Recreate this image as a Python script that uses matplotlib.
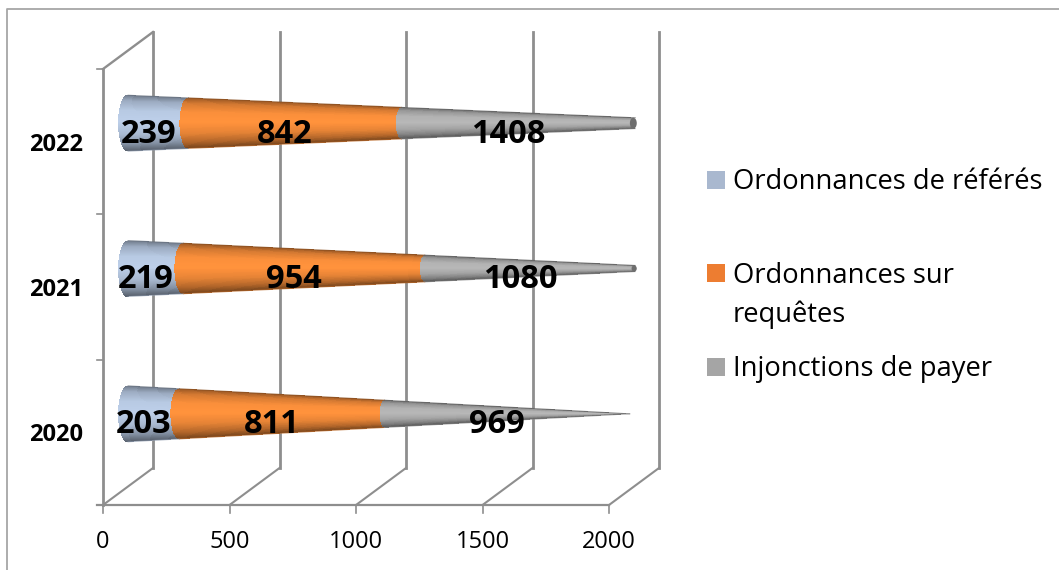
import numpy as np
import matplotlib
matplotlib.use("Agg")
import matplotlib.pyplot as plt
from matplotlib.patches import Rectangle, Ellipse

# values
years = ["2020", "2021", "2022"]
referes = [203, 219, 239]
requetes = [811, 954, 842]
injonctions = [969, 1080, 1408]
series_names = ["Ordonnances de référés", "Ordonnances sur\nrequêtes", "Injonctions de payer"]
x_ticks = [0, 500, 1000, 1500, 2000]

W, H = 1059, 570
x_scale = 506 / 2000      # px per unit
y_scale = 145.33          # px per category
grid_col = "#8e8e8e"
depth_x = 50 / x_scale
depth_y = 37 / y_scale
radius = 28 / y_scale
bulge = 10 / x_scale
x_end = 2005              # where the cones get cut

colors = [np.array([0.72, 0.79, 0.89]), np.array([0.98, 0.56, 0.23]), np.array([0.70, 0.70, 0.70])]
shade_v = [-1.0, -0.8, -0.45, -0.05, 0.4, 0.75, 1.0]
shade_f = [0.62, 0.85, 1.0, 1.03, 0.92, 0.72, 0.48]

plt.rcParams["font.family"] = ["Open Sans", "DejaVu Sans"]

fig = plt.figure(figsize=(W / 100, H / 100), dpi=100)
ax = fig.add_axes([0, 0, 1, 1])
ax.set_xlim(-103 / x_scale, (W - 103) / x_scale)
ax.set_ylim((505 - H) / y_scale, 505 / y_scale)
ax.axis("off")

# outer frame, only the top and left sides show
ax.plot([6.5 / W, 6.5 / W, 1], [0, 1 - 8.5 / H, 1 - 8.5 / H], transform=ax.transAxes,
        color="#a6a6a6", lw=1.3)

# walls and floor
n_cat = len(years)
for v in x_ticks:
    ax.plot([v, v], [-8 / y_scale, 0], color=grid_col, lw=1.2, zorder=1)
    ax.plot([v, v + depth_x], [0, depth_y], color=grid_col, lw=1.5, zorder=1)
    ax.plot([v + depth_x] * 2, [depth_y, n_cat + depth_y], color=grid_col, lw=2.0, zorder=1)
    ax.text(v, -36.5 / y_scale, str(v), ha="center", va="center", fontsize=17, color="black")
ax.plot([-6 / x_scale, 2000], [0, 0], color=grid_col, lw=1.6, zorder=1)
ax.plot([0, 0], [0, n_cat], color=grid_col, lw=2.0, zorder=1)
ax.plot([0, depth_x], [n_cat, n_cat + depth_y], color=grid_col, lw=1.7, zorder=1)
for k in range(n_cat + 1):
    ax.plot([-6 / x_scale, 0], [k, k], color=grid_col, lw=1.2, zorder=1)

# cones
for i, year in enumerate(years):
    vals = [referes[i], requetes[i], injonctions[i]]
    total = sum(vals)
    cy = i + 0.5 + depth_y / 2
    x0 = depth_x / 2
    start = 0
    for j, val in enumerate(vals):
        stop = min(start + val, x_end)
        t = np.linspace(start, stop, 60)
        v = np.linspace(-1, 1, 57)
        tt, vv = np.meshgrid(t, v)
        r = 1 - tt / total
        X = x0 + tt - bulge * r * np.sqrt(1 - vv ** 2)
        Y = cy - radius * r * vv
        vc = (v[:-1] + v[1:]) / 2
        f = np.interp(vc, shade_v, shade_f)
        rgb = np.clip(np.outer(f, colors[j]), 0, 1)
        rgb = np.repeat(rgb[:, None, :], len(t) - 1, axis=1)
        ax.pcolormesh(X, Y, rgb, shading="flat", zorder=3, rasterized=True)
        # smooth the top and bottom edges a bit
        ax.plot(X[0], Y[0], color=colors[j] * 0.55, lw=0.7, alpha=0.7, zorder=3.5)
        ax.plot(X[-1], Y[-1], color=colors[j] * 0.75, lw=0.7, alpha=0.7, zorder=3.5)
        # data label
        ax.text(x0 + (start + stop) / 2 - 10 / x_scale, cy - 11 / y_scale, str(val),
                ha="center", va="center", fontsize=23.5, fontweight="bold", color="black", zorder=5)
        start = stop
    # cut end of the cone
    if total > x_end:
        r_end = 1 - x_end / total
        ax.add_patch(Ellipse((x0 + x_end - bulge * r_end, cy), 2 * bulge * r_end + 3 / x_scale,
                             2 * radius * r_end, fc="#6e6e6e", ec="none", zorder=4))
    ax.text(-47 / x_scale, i + 0.5 - 3 / y_scale, year, ha="center", va="center",
            fontsize=17, fontweight="bold", color="black")

# legend
leg_cols = ["#a9b8cf", "#ed7d31", "#a5a5a5"]
leg_y = [180, 273, 367]
leg_base = [189, 283, 376]
for name, col, py, base in zip(series_names, leg_cols, leg_y, leg_base):
    ax.add_patch(Rectangle((707 / W, 1 - (py + 9) / H), 18 / W, 18 / H, transform=ax.transAxes,
                           fc=col, ec="none"))
    for k, line in enumerate(name.split("\n")):
        ax.text(733 / W, 1 - (base + 39 * k) / H, line, transform=ax.transAxes, ha="left", va="baseline",
                fontsize=19.75, color="black")

fig.savefig("out.png", dpi=100)
